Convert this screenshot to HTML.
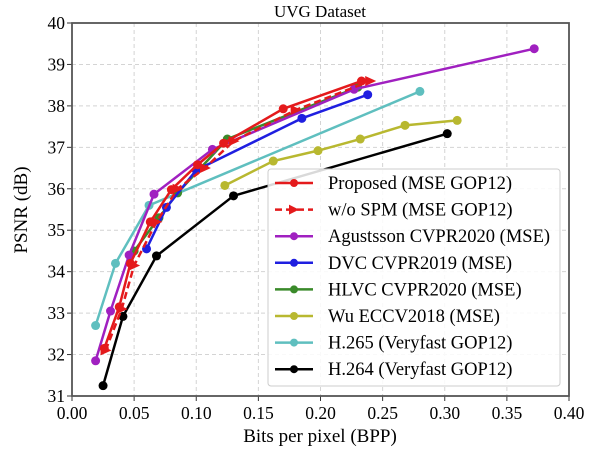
<!DOCTYPE html>
<html><head><meta charset="utf-8"><style>body{margin:0;background:#fff}svg{font-family:"Liberation Serif",serif}</style></head>
<body>
<svg id="c" width="600" height="450"></svg>
<script>
const xTicks=[0,0.05,0.1,0.15,0.2,0.25,0.3,0.35,0.4];
const yTicks=[31,32,33,34,35,36,37,38,39,40];
const names=["Proposed (MSE GOP12)","w/o SPM (MSE GOP12)","Agustsson CVPR2020 (MSE)","DVC CVPR2019 (MSE)","HLVC CVPR2020 (MSE)","Wu ECCV2018 (MSE)","H.265 (Veryfast GOP12)","H.264 (Veryfast GOP12)"];
const colors=["#e41a1c","#e41a1c","#a020c0","#1f1fe0","#3a8a2a","#b8b830","#5fbfbf","#000000"];
const bppProposed=[0.026,0.038,0.047,0.063,0.080,0.101,0.122,0.170,0.233];
const psnrProposed=[32.15,33.15,34.2,35.2,35.98,36.58,37.1,37.93,38.6];
const bppNoSpm=[0.027,0.040,0.050,0.068,0.085,0.107,0.130,0.180,0.240];
const psnrNoSpm=[32.1,33.1,34.15,35.2,36.0,36.5,37.15,37.9,38.6];
const bppAgus=[0.019,0.031,0.046,0.066,0.113,0.227,0.372];
const psnrAgus=[31.85,33.05,34.4,35.87,36.95,38.4,39.38];
const bppDvc=[0.060,0.076,0.100,0.185,0.238];
const psnrDvc=[34.55,35.55,36.45,37.7,38.27];
const bppHlvc=[0.050,0.070,0.085,0.125,0.230];
const psnrHlvc=[34.5,35.3,35.9,37.2,38.45];
const bppWu=[0.123,0.162,0.198,0.232,0.268,0.310];
const psnrWu=[36.08,36.67,36.92,37.2,37.53,37.65];
const bpp265=[0.019,0.035,0.062,0.280];
const psnr265=[32.7,34.2,35.6,38.35];
const bpp264=[0.025,0.041,0.068,0.130,0.302];
const psnr264=[31.25,32.92,34.38,35.83,37.33];
const series=[[bppProposed,psnrProposed],[bppNoSpm,psnrNoSpm],[bppAgus,psnrAgus],[bppDvc,psnrDvc],[bppHlvc,psnrHlvc],[bppWu,psnrWu],[bpp265,psnr265],[bpp264,psnr264]];
const drawOrder=[7,6,5,4,3,2,1,0];
const X0=72,X1=569,Y0=396,Y1=23;
const sx=v=>X0+(v-0)/(0.4)*(X1-X0);
const sy=v=>Y0-(v-31)/9*(Y0-Y1);
const svg=document.getElementById('c');const NS='http://www.w3.org/2000/svg';
function mk(t,a,p){const e=document.createElementNS(NS,t);for(const k in a)e.setAttribute(k,a[k]);(p||svg).appendChild(e);return e;}
xTicks.forEach(v=>{const g=mk('line',{x1:sx(v),x2:sx(v),y1:Y1,y2:Y0,stroke:'#d4d4d4','stroke-dasharray':'4,3'});

mk('line',{x1:sx(v),x2:sx(v),y1:Y0,y2:Y0+5,stroke:'#333'});
const t=mk('text',{x:sx(v),y:Y0+23,'text-anchor':'middle','font-size':17.5});t.textContent=v.toFixed(2);
});
yTicks.forEach(v=>{const g=mk('line',{x1:X0,x2:X1,y1:sy(v),y2:sy(v),stroke:'#d4d4d4','stroke-dasharray':'4,3'});

mk('line',{x1:X0-5,x2:X0,y1:sy(v),y2:sy(v),stroke:'#333'});
const t=mk('text',{x:X0-7,y:sy(v)+6,'text-anchor':'end','font-size':17.5});t.textContent=v;
});
const fr=mk('rect',{x:X0,y:Y1,width:X1-X0,height:Y0-Y1,fill:'none',stroke:'#555','stroke-width':1.8});

drawOrder.forEach(i=>{const [xs,ys]=series[i];const g=mk('g',{});

const pts=xs.map((x,j)=>sx(x)+','+sy(ys[j])).join(' ');
mk('polyline',{points:pts,fill:'none',stroke:colors[i],'stroke-width':2.5,'stroke-dasharray':i==1?'7,4':'none'},g);
xs.forEach((x,j)=>{if(i==1){const cx=sx(x),cy=sy(ys[j]);mk('polygon',{points:`${cx-5},${cy-5} ${cx+6},${cy} ${cx-5},${cy+5}`,fill:colors[i]},g);}
else mk('circle',{cx:sx(x),cy:sy(ys[j]),r:4.5,fill:colors[i]},g);});});
const lg=mk('g',{});
mk('rect',{x:268,y:169,width:292,height:217,fill:'#fff','fill-opacity':0.85,stroke:'#ccc',rx:3},lg);
names.forEach((n,i)=>{const y=183+i*26.6;const e=mk('g',{},lg);

mk('line',{x1:275,x2:313,y1:y,y2:y,stroke:colors[i],'stroke-width':2.5,'stroke-dasharray':i==1?'7,4':'none'},e);
if(i==1)mk('polygon',{points:`289,${y-5} 299,${y} 289,${y+5}`,fill:colors[i]},e);else mk('circle',{cx:294,cy:y,r:4,fill:colors[i]},e);
const t=mk('text',{x:328,y:y+6,'font-size':18.5},e);t.textContent=n;});
let t=mk('text',{x:320,y:17,'text-anchor':'middle','font-size':17});t.textContent='UVG Dataset';
t=mk('text',{x:320,y:442,'text-anchor':'middle','font-size':19});t.textContent='Bits per pixel (BPP)';
t=mk('text',{x:27,y:210,'text-anchor':'middle','font-size':19,transform:'rotate(-90 27 210)'});t.textContent='PSNR (dB)';
</script>
</body></html>
